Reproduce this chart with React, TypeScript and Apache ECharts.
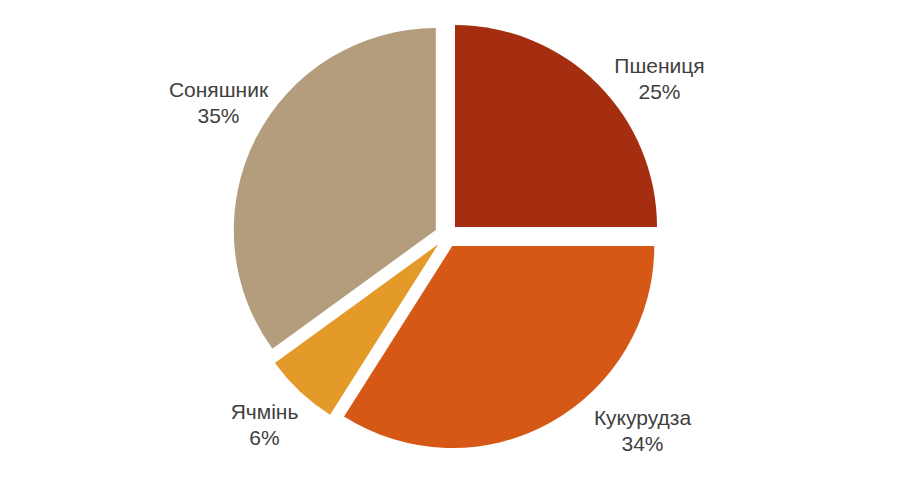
import React, { useEffect, useRef } from "react";
import * as echarts from "echarts";

const categories = ["Пшениця", "Кукурудза", "Ячмінь", "Соняшник"];
const shares = [25, 34, 6, 35];
const colors = ["#A42E0F", "#D55816", "#E39A28", "#B39D7C"];

// label block centres, relative to the pie centre (px)
const labelOffsets: [number, number][] = [
  [213, -157],
  [196, 195],
  [-182, 189],
  [-228, -133],
];

const CX = 446.5;
const CY = 235.5;

export default function App() {
  const ref = useRef<HTMLDivElement>(null);
  useEffect(() => {
    if (!ref.current) return;
    const chart = echarts.init(ref.current, null, { renderer: "svg" });
    const total = shares.reduce((a, b) => a + b, 0);
    chart.setOption({
      animation: false,
      backgroundColor: "#ffffff",
      graphic: categories.map((name, i) => ({
        type: "text",
        x: CX + labelOffsets[i][0],
        y: CY + labelOffsets[i][1],
        silent: true,
        style: {
          text: `${name}\n${Math.round((shares[i] / total) * 100)}%`,
          fontFamily: "Liberation Sans, Arial, sans-serif",
          fontSize: 21,
          lineHeight: 26,
          fill: "#404040",
          align: "center",
          verticalAlign: "middle",
        },
      })),
      series: [
        {
          type: "pie",
          center: [CX, CY],
          radius: [0, 202],
          startAngle: 90,
          clockwise: true,
          selectedMode: "multiple",
          selectedOffset: 12,
          emphasis: { disabled: true },
          itemStyle: { borderWidth: 0 },
          label: { show: false },
          labelLine: { show: false },
          data: categories.map((name, i) => ({
            name,
            value: shares[i],
            selected: true,
            itemStyle: { color: colors[i] },
          })),
        },
      ],
    });
    return () => chart.dispose();
  }, []);
  return (
    <div
      ref={ref}
      style={{ position: "absolute", left: 0, top: 0, width: 900, height: 494 }}
    />
  );
}
